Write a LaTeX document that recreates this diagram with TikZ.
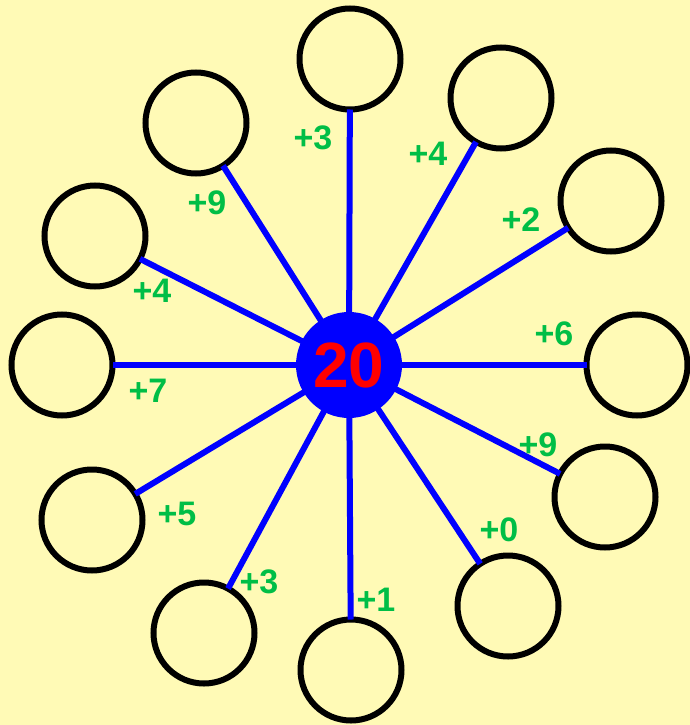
\documentclass[tikz,border=0pt]{standalone}
\usepackage{fontspec}
\setmainfont{Liberation Sans}
\definecolor{bgyellow}{RGB}{255,250,182}
\definecolor{lblgreen}{RGB}{0,190,70}
\begin{document}
\begin{tikzpicture}[x=1pt,y=-1pt,
  blank/.style={circle,draw=black,line width=6pt,fill=bgyellow,minimum size=101pt,inner sep=0pt,outer sep=0pt},
  hub/.style={circle,fill=blue,minimum size=106pt,inner sep=0pt,outer sep=0pt,text=red,font=\bfseries\fontsize{64}{64}\selectfont},
  spoke/.style={draw=blue,line width=6pt},
  lbl/.style={text=lblgreen,font=\bfseries\fontsize{34}{34}\selectfont,inner sep=0pt}]
\fill[bgyellow] (0,0) rectangle (690,725);
\useasboundingbox (0,0) rectangle (690,725);
\node[blank] (o1) at (350,59) {};
\node[blank] (o2) at (501,98) {};
\node[blank] (o3) at (611,201) {};
\node[blank] (o4) at (637,365) {};
\node[blank] (o5) at (605,497) {};
\node[blank] (o6) at (508,606) {};
\node[blank] (o7) at (351,670) {};
\node[blank] (o8) at (204,633) {};
\node[blank] (o9) at (92,520) {};
\node[blank] (o10) at (62,365) {};
\node[blank] (o11) at (95,236) {};
\node[blank] (o12) at (196,123) {};
\coordinate (c0) at (349,365);
\foreach \i in {1,...,12} {\draw[spoke] (c0) -- (o\i);}
\node[hub] (c) at (349,365) {20};
\node[lbl] (l1) at (313,138) {+3};
\node[lbl] (l2) at (428,154) {+4};
\node[lbl] (l3) at (521,220) {+2};
\node[lbl] (l4) at (554,334) {+6};
\node[lbl] (l5) at (538,445) {+9};
\node[lbl] (l6) at (499,530) {+0};
\node[lbl] (l7) at (376,600) {+1};
\node[lbl] (l8) at (259,582) {+3};
\node[lbl] (l9) at (177,514) {+5};
\node[lbl] (l10) at (148,391) {+7};
\node[lbl] (l11) at (152,291) {+4};
\node[lbl] (l12) at (207,203) {+9};
\end{tikzpicture}
\end{document}
